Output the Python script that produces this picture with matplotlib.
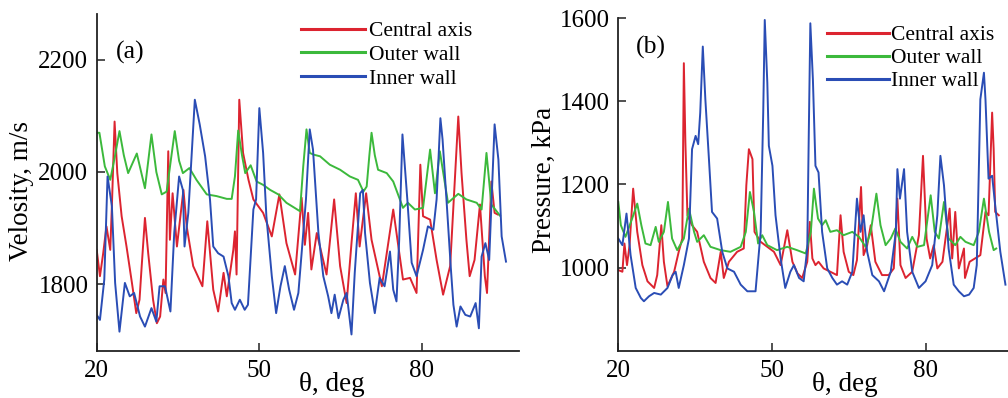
import matplotlib
matplotlib.use("Agg")
import matplotlib.pyplot as plt

plt.rcParams['font.family'] = ['Liberation Serif', 'DejaVu Serif']

# ---------------- Data: panel (a) velocity ----------------
labels = ["Central axis", "Outer wall", "Inner wall"]
colors = ["#dc2430", "#3cb93c", "#2a4db5"]

vel_green_x = [20, 20.5, 21.5, 22.5, 23.4, 24.2, 25.0, 25.8, 27.4, 28.9, 30.1, 31.0, 32, 32.9, 33.8, 34.4,
               35.2, 35.9, 37.1, 38.4, 40.3, 42.1, 44, 44.9, 45.5, 46.1, 46.8, 47.4, 48.4, 49.5, 50.7,
               52, 53.5, 55, 57.5, 58.1, 58.7, 59.3, 60, 61.2, 63, 64.9, 66.7, 68.2, 69.2, 69.8, 70.3,
               70.7, 71.3, 71.9, 73.5, 74.7, 76.5, 77.4, 78.7, 80.2, 81.5, 82.4, 83.3, 84.8, 86.7, 88.2,
               90.1, 91, 91.9, 92.8, 94.4]
vel_green_y = [2070, 2070, 2010, 1986, 2030, 2073, 2030, 1998, 2033, 1971, 2067, 2000, 1960, 1965, 2030, 2073,
               2020, 1998, 2007, 1986, 1960, 1957, 1952, 1952, 1992, 2074, 2030, 1998, 2012, 1983, 1977,
               1968, 1960, 1945, 1930, 2010, 2076, 2034, 2031, 2028, 2013, 2004, 1992, 1986, 1965, 1974, 2030,
               2070, 2030, 2004, 1998, 1983, 1936, 1945, 1933, 1936, 2040, 1962, 2037, 1945, 1961, 1951,
               1945, 1933, 2034, 1942, 1922]

vel_red_x = [20, 20.6, 21.2, 21.8, 22.5, 22.8, 23.3, 23.8, 24.6, 25.5, 26.5, 27.3, 27.9, 28.3, 28.9,
             29.5, 30.4, 31.1, 31.7, 32.3, 32.7, 33.2, 33.5, 34.0, 34.8, 36, 36.6, 37.8, 39.5, 40.4,
             41.5, 42.4, 43.4, 44.0, 44.6, 45.2, 45.5, 45.8, 46.3, 47, 48, 48.9, 50.7, 52.3, 53.7,
             55, 56.6, 57.8, 58.4, 59.0, 59.6, 60.6, 62.4, 63.8, 64.9, 66.1, 67, 67.8, 68.5, 69.7,
             70.7, 72.6, 74.7, 76.5, 77.8, 79, 79.7, 80.2, 81.5, 82.7, 83.9, 85.2, 86.7, 87.3, 88.2,
             88.8, 89.7, 90.7, 91.6, 92.0, 92.8, 93.4, 94.0]
vel_red_y = [1861, 1814, 1855, 1903, 1861, 1939, 2090, 1998, 1921, 1867, 1802, 1748, 1772, 1832, 1918,
             1855, 1772, 1730, 1742, 1808, 1784, 2037, 1879, 1962, 1867, 1968, 1903, 1832, 1796, 1912,
             1790, 1751, 1820, 1778, 1820, 1861, 1894, 1817, 2129, 2034, 1986, 1951, 1927, 1885, 1960,
             1873, 1817, 1954, 1870, 1927, 1826, 1891, 1817, 1951, 1832, 1766, 1873, 1962, 1867, 1962,
             1879, 1796, 1933, 1808, 1811, 1784, 2013, 1921, 1915, 1843, 1781, 1832, 2099, 1998, 1879,
             1814, 1843, 1942, 1814, 1784, 1983, 1927, 1924]

vel_blue_x = [20, 20.6, 21.4, 22, 22.8, 23.4, 24.2, 25.2, 26.1, 26.9, 28, 28.9, 30.1, 31.0, 31.6,
              32.6, 33.6, 34.3, 35.2, 35.9, 36.2, 36.9, 38.1, 39, 40, 40.9, 41.5, 42.4, 43.4, 44.3,
              44.9, 45.5, 46.4, 47.3, 47.9, 48.9, 49.4, 50, 50.7, 51.3, 52.3, 53.1, 53.9, 54.7, 55.5,
              56.4, 57.2, 57.8, 58.6, 59.3, 59.9, 60.9, 61.8, 62.7, 63.3, 63.9, 64.6, 65.5, 66.1, 67,
              67.6, 68.6, 69.1, 69.5, 70.4, 71.3, 72.2, 73.1, 74.1, 74.7, 75.3, 75.8, 76.4, 77.3, 78.1,
              79, 80.2, 81.1, 82.1, 82.7, 83.4, 83.8, 84.6, 85.3, 85.8, 86.4, 87.1, 88, 88.9, 89.9,
              90.5, 91, 91.7, 92.4, 93.4, 94.1, 94.7, 95.5]
vel_blue_y = [1745, 1736, 1808, 1992, 1939, 1802, 1715, 1802, 1778, 1784, 1742, 1724, 1757, 1733, 1796,
              1796, 1751, 1891, 1992, 1968, 1867, 1927, 2129, 2085, 2028, 1951, 1867, 1855, 1849, 1814,
              1766, 1754, 1772, 1754, 1763, 1933, 1951, 2114, 2034, 1921, 1814, 1748, 1796, 1832, 1790,
              1754, 1784, 1855, 1951, 2076, 2040, 1891, 1814, 1778, 1748, 1781, 1739, 1772, 1784, 1710,
              1820, 1962, 1968, 1891, 1802, 1748, 1811, 1796, 1858, 1790, 1769, 1879, 2067, 1951, 1838,
              1814, 1861, 1903, 1897, 1951, 2096, 2058, 1939, 1832, 1763, 1724, 1760, 1745, 1742, 1766,
              1721, 1849, 1873, 1843, 2085, 2022, 1885, 1840]

# ---------------- Data: panel (b) pressure ----------------
pr_green_x = [20, 20.5, 21.4, 22.7, 23.7, 24.5, 25.3, 26.3, 27.3, 27.9, 28.9, 29.7, 30.5, 31.5, 32.8,
              33.8, 34.8, 35.4, 36.7, 38, 40, 41.9, 43.9, 44.9, 45.7, 46.5, 47.3, 48.1, 49.1, 51, 53,
              54.9, 56.6, 57.6, 58.2, 59, 59.8, 60.5, 61.4, 62.7, 64, 65.7, 67, 68.3, 69.3, 70.4, 71.2,
              72.2, 73.2, 74.1, 75.1, 76.4, 77.4, 78.4, 79.7, 81, 81.8, 82.6, 83.6, 84.5, 85.8, 86.8,
              87.8, 89.4, 90.4, 91.4, 92.4, 93.3, 93.8]
pr_green_y = [1158, 1102, 1074, 1118, 1154, 1102, 1058, 1054, 1098, 1062, 1086, 1158, 1070, 1042, 1070,
              1142, 1086, 1062, 1078, 1050, 1042, 1038, 1050, 1086, 1182, 1134, 1058, 1078, 1054, 1042, 1050,
              1042, 1034, 1086, 1190, 1118, 1102, 1114, 1086, 1090, 1078, 1086, 1074, 1050, 1086, 1178, 1102,
              1054, 1070, 1094, 1062, 1046, 1074, 1050, 1054, 1174, 1086, 1070, 1158, 1070, 1054, 1074,
              1062, 1054, 1086, 1166, 1086, 1042, 1046]

pr_red_x = [20, 20.8, 21.2, 21.7, 22.2, 22.9, 23.7, 24.7, 25.7, 27, 27.6, 28.4, 28.9, 29.6, 30.9,
            31.8, 32.5, 32.8, 33.1, 33.5, 34.4, 35.4, 36.7, 38, 39, 40, 40.6, 41.6, 43.2, 44.5, 45,
            45.5, 46.2, 46.6, 47.8, 49.1, 50.4, 51.7, 53, 54, 55, 55.9, 56.9, 57.4, 57.9, 58.5, 59.1,
            60.1, 61.4, 62.7, 63.4, 64, 65, 65.9, 66.6, 67.4, 67.9, 68.6, 69.3, 70.2, 71.5, 72.8, 73.8,
            74.5, 75.1, 76.1, 77.4, 78.7, 79.5, 80.2, 80.9, 81.6, 82.3, 83.3, 83.9, 84.7, 85.2, 85.8,
            86.5, 87.5, 87.7, 88.6, 90.7, 91.7, 92.3, 93, 93.3, 93.6, 94.3]
pr_red_y = [994, 990, 1058, 1006, 1054, 1190, 1086, 1006, 967, 951, 982, 1102, 1014, 955, 990,
            1038, 1070, 1492, 1301, 1126, 1102, 1086, 1014, 975, 963, 1038, 975, 1014, 1038, 1046, 1198,
            1285, 1261, 1086, 1062, 1050, 1038, 1006, 1090, 1014, 986, 975, 1014, 1110, 1022, 1006, 1014,
            998, 990, 982, 1126, 1038, 990, 982, 1018, 1194, 1030, 1054, 1102, 1014, 982, 982, 998,
            1166, 1006, 975, 990, 1078, 1269, 1070, 1022, 1054, 998, 1014, 1070, 1142, 1022, 1134,
            998, 1046, 975, 1014, 1030, 1134, 1126, 1373, 1285, 1134, 1126]

pr_blue_x = [20, 20.8, 21.6, 22.4, 23.4, 24.4, 25, 26, 27, 28.3, 29.6, 30.6, 31.2, 31.8, 32.8,
             33.8, 34.4, 35.1, 35.6, 36.0, 36.5, 37.0, 37.7, 38.3, 39.3, 40.3, 41.3, 42.6, 43.9, 45.2,
             46.8, 47.8, 48.3, 48.6, 49.1, 49.4, 50.1, 50.7, 51.7, 52.6, 53.6, 54.3, 55.3, 56.2, 56.9,
             57.2, 57.5, 58, 58.5, 59.1, 59.8, 60.8, 61.8, 62.7, 63.7, 64.7, 65.7, 66.6, 67.3, 67.9,
             68.6, 69.6, 70.9, 71.9, 73.2, 74.2, 74.5, 75, 75.8, 76.4, 77.4, 78.7, 80, 81.3, 82.3,
             82.9, 83.6, 84.5, 85.5, 86.5, 87.5, 88.5, 89.4, 90, 90.7, 91.4, 91.7, 92.3, 93, 93.6,
             94.6, 95.6]
pr_blue_y = [1070, 1054, 1130, 1030, 951, 927, 919, 931, 939, 935, 951, 982, 990, 951, 1006,
             1070, 1285, 1317, 1297, 1373, 1532, 1405, 1261, 1134, 1118, 1038, 998, 990, 959, 943,
             943, 1086, 1373, 1596, 1445, 1293, 1245, 1126, 1022, 951, 990, 1006, 975, 967, 1046,
             1325, 1588, 1453, 1245, 1229, 1086, 998, 975, 959, 967, 959, 990, 1166, 1086, 1126,
             1038, 982, 967, 943, 990, 1086, 1237, 1166, 1237, 1086, 990, 951, 967, 1006, 1126,
             1269, 1198, 1046, 959, 943, 931, 935, 951, 1006, 1405, 1469, 1405, 1214, 1221, 1150,
             1038, 959]

# ---------------- Figure ----------------
W, H = 1008, 398
fig = plt.figure(figsize=(W / 100, H / 100), dpi=100)

def px_axes(l, r, t, b):
    return fig.add_axes([l / W, 1 - b / H, (r - l) / W, (b - t) / H])

axA = px_axes(96.7, 519, 14, 350.7)
axB = px_axes(618.3, 1008, 18.3, 350.7)

for ax, xs, ys in [
    (axA, [vel_red_x, vel_green_x, vel_blue_x], [vel_red_y, vel_green_y, vel_blue_y]),
    (axB, [pr_red_x, pr_green_x, pr_blue_x], [pr_red_y, pr_green_y, pr_blue_y]),
]:
    for x, y, c, lab in zip(xs, ys, colors, labels):
        ax.plot(x, y, color=c, lw=1.4, label=lab, solid_joinstyle='round')
    for s in ['top', 'right']:
        ax.spines[s].set_visible(False)
    for s in ['left', 'bottom']:
        ax.spines[s].set_linewidth(1.3)
        ax.spines[s].set_color('#222222')
    ax.tick_params(direction='in', length=6, width=1.1, labelsize=18, color='#222222')
    ax.tick_params(axis='x', pad=7)
    ax.tick_params(axis='y', pad=6)
    ax.set_xticks([20, 50, 80])

axA.set_xlim(20, 97.9)
axA.set_ylim(1681, 2282)
axA.set_yticks([1800, 2000, 2200])
axB.set_xlim(20, 96.1)
axB.set_ylim(800, 1600)
axB.set_yticks([1000, 1200, 1400, 1600])

axA.set_ylabel("Velosity, m/s", fontsize=19.5)
axA.yaxis.set_label_coords(-0.149, 0.474)
axB.set_ylabel("Pressure, kPa", fontsize=19.5)
axB.yaxis.set_label_coords(-0.157, 0.514)
axA.set_xlabel("θ, deg", fontsize=19.5)
axA.xaxis.set_label_coords(0.557, -0.062)
axB.set_xlabel("θ, deg", fontsize=19.5)
axB.xaxis.set_label_coords(0.582, -0.064)

axA.text(0.046, 0.885, "(a)", transform=axA.transAxes, fontsize=18.5, va='center', ha='left')
axB.text(0.045, 0.911, "(b)", transform=axB.transAxes, fontsize=18.5, va='center', ha='left')

legA = axA.legend(loc='upper left', bbox_to_anchor=(301 / W, 1 - 21 / H), bbox_transform=fig.transFigure,
                  frameon=False, fontsize=15.5, handlelength=2.95, handletextpad=0.2,
                  labelspacing=0.17, borderpad=0, borderaxespad=0)
legB = axB.legend(loc='upper left', bbox_to_anchor=(826.7 / W, 1 - 25 / H), bbox_transform=fig.transFigure,
                  frameon=False, fontsize=15.5, handlelength=2.9, handletextpad=0.1,
                  labelspacing=0.14, borderpad=0, borderaxespad=0)
for leg in (legA, legB):
    for ln in leg.get_lines():
        ln.set_linewidth(2.2)

fig.savefig("out.png", dpi=100)
